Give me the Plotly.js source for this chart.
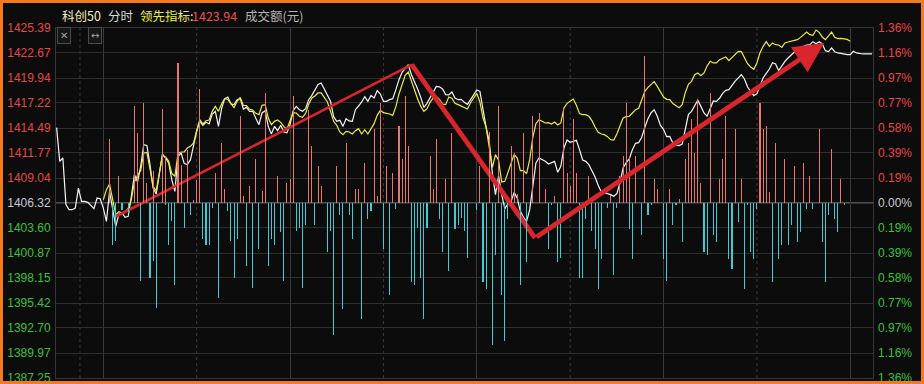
<!DOCTYPE html>
<html><head><meta charset="utf-8">
<script src="https://cdn.plot.ly/plotly-3.0.1.min.js"></script>
<style>
html,body{margin:0;padding:0;background:#0c0c0c;}
#wrap{position:relative;width:924px;height:384px;overflow:hidden;}
#chart{position:absolute;left:0;top:0;width:924px;height:384px;}
#frame{position:absolute;left:0;top:0;width:924px;height:384px;box-sizing:border-box;border:3px solid #f47a20;pointer-events:none;}
</style></head><body>
<div id="wrap"><div id="chart"></div><div id="frame"></div></div>
<script>
// ---- data ----
const prevClose = 1406.32;
const priceTickLabels = ['1425.39','1422.67','1419.94','1417.22','1414.49','1411.77','1409.04','1406.32','1403.60','1400.87','1398.15','1395.42','1392.70','1389.97','1387.25'];
const pctTickLabels = ['1.36%','1.16%','0.97%','0.77%','0.58%','0.39%','0.19%','0.00%','0.19%','0.39%','0.58%','0.77%','0.97%','1.16%','1.36%'];

// minutes from 09:30 (0) to 15:00 (240); pre-market from -15
const indexStartMinute = -15;
const indexPrice = [
1414.53,1410.86,1411.22,1406.14,1405.59,1405.59,1405.77,1407.95,1406.50,1406.50,1406.39,1406.07,1405.70,1406.86,1406.79,
1405.77,1404.32,1407.59,1405.48,1403.78,1405.12,1405.23,1404.76,1404.87,1407.05,1409.41,1408.61,1410.32,1412.68,1412.60,
1410.50,1407.95,1407.30,1409.77,1411.66,1411.22,1410.68,1408.86,1407.59,1411.40,1411.77,1410.61,1410.50,1411.04,1412.60,
1414.13,1415.22,1414.78,1415.11,1414.93,1416.02,1416.31,1414.67,1416.60,1417.69,1417.87,1417.11,1417.04,1417.58,1417.69,
1416.56,1416.74,1416.31,1416.31,1415.55,1414.86,1416.13,1416.38,1414.67,1413.84,1414.67,1414.20,1414.78,1414.06,1413.98,
1414.86,1416.38,1416.85,1416.49,1416.31,1416.60,1417.58,1418.05,1418.74,1419.25,1419.40,1418.74,1418.05,1417.40,1415.73,
1415.22,1415.33,1414.67,1415.51,1415.26,1415.22,1416.49,1416.89,1417.33,1417.91,1417.40,1418.05,1417.76,1418.56,1418.20,
1417.40,1417.40,1417.58,1417.69,1418.67,1419.76,1420.56,1421.03,1421.39,1420.30,1419.61,1418.74,1417.83,1416.74,1417.18,
1417.83,1418.52,1419.03,1418.98,1418.74,1418.13,1418.09,1418.42,1417.76,1417.58,1417.62,1417.29,1417.07,1417.58,1418.13,
1418.63,1418.49,1416.49,1414.57,1413.04,1409.59,1407.23,1409.30,1407.23,1405.70,1406.21,1406.50,1407.48,1406.83,1405.41,
1404.76,1404.32,1405.59,1408.14,1410.68,1411.22,1411.04,1410.86,1410.57,1410.68,1410.86,1409.66,1410.32,1412.31,1413.18,
1412.93,1413.04,1413.15,1412.13,1411.01,1410.86,1410.50,1409.84,1409.15,1408.25,1407.52,1407.45,1407.37,1407.23,1407.05,
1407.34,1408.50,1410.13,1410.72,1411.12,1412.13,1412.82,1412.90,1413.48,1414.57,1415.51,1416.16,1416.49,1415.77,1414.78,
1414.35,1413.55,1413.58,1412.86,1412.64,1412.57,1412.75,1414.49,1415.98,1416.31,1416.85,1417.51,1416.85,1416.13,1415.77,
1416.60,1417.44,1417.40,1417.73,1418.27,1418.60,1418.67,1419.14,1419.61,1419.94,1420.30,1419.83,1418.96,1418.49,1418.02,
1418.23,1419.07,1419.94,1420.45,1420.92,1421.61,1421.47,1420.74,1421.25,1421.76,1422.12,1422.41,1422.77,1423.07,1423.25,
1423.39,1423.54,1423.57,1423.90,1423.68,1423.90,1423.65,1422.92,1422.81,1423.21,1422.81,1422.67,1422.63,1422.52,1422.48,
1422.48,1422.85,1422.67,1422.59,1422.56,1422.56,1422.56,1422.56
];

const leadStartMinute = 0;
const leadPrice = [
1406.68,1407.77,1408.39,1406.68,1405.05,1405.37,1405.23,1405.41,1405.74,1406.68,1408.61,1409.33,1409.84,1411.77,1411.84,
1410.03,1408.10,1407.66,1409.59,1411.48,1411.37,1410.86,1409.55,1409.23,1411.73,1411.88,1411.88,1412.31,1412.50,1412.86,
1414.24,1415.40,1414.93,1415.29,1415.36,1416.31,1416.85,1416.31,1417.11,1417.69,1417.62,1417.11,1416.71,1417.40,1417.83,
1416.96,1416.93,1416.53,1416.45,1416.09,1415.95,1416.96,1417.04,1415.58,1414.86,1415.22,1415.36,1415.11,1414.64,1414.38,
1415.22,1416.16,1416.13,1415.77,1415.66,1416.09,1417.11,1417.76,1417.98,1418.31,1418.31,1417.76,1417.33,1416.31,1415.22,
1414.78,1414.06,1413.77,1414.13,1414.06,1413.84,1414.20,1414.42,1413.84,1414.31,1413.84,1414.42,1414.97,1415.87,1416.42,
1416.16,1416.13,1416.02,1415.87,1416.82,1418.20,1419.29,1420.23,1420.60,1419.58,1418.56,1417.65,1416.85,1416.31,1416.60,
1417.29,1417.76,1417.94,1417.62,1417.11,1417.04,1417.87,1417.73,1417.18,1417.04,1416.85,1416.67,1416.56,1417.25,1417.76,
1418.27,1417.33,1415.58,1414.57,1412.31,1410.21,1411.59,1410.97,1408.61,1408.68,1409.63,1410.68,1411.62,1411.22,1409.84,
1409.84,1409.52,1411.04,1413.48,1414.97,1415.40,1415.22,1415.04,1415.07,1414.93,1415.15,1414.82,1415.04,1416.67,1417.18,
1417.40,1417.65,1416.96,1416.06,1415.95,1415.95,1415.77,1415.29,1414.60,1414.02,1413.84,1413.77,1413.55,1413.22,1413.18,
1413.84,1414.71,1415.58,1415.73,1415.77,1416.13,1416.49,1416.64,1417.47,1418.49,1418.92,1419.25,1419.54,1419.03,1418.38,
1417.87,1417.62,1417.58,1417.15,1416.89,1416.71,1417.04,1418.38,1419.25,1419.58,1420.30,1420.49,1420.20,1420.49,1421.25,
1421.76,1421.58,1421.58,1421.94,1422.08,1422.23,1421.83,1422.19,1422.52,1422.85,1422.81,1422.19,1421.50,1421.14,1420.89,
1421.58,1422.70,1423.39,1423.90,1423.39,1423.76,1423.57,1423.54,1423.28,1423.76,1423.86,1423.94,1423.97,1424.12,1424.37,
1424.66,1424.95,1424.66,1424.59,1425.17,1424.92,1424.41,1424.12,1424.52,1424.95,1424.37,1424.23,1424.26,1424.23,1424.15,
1423.94
];

// turnover bars (relative units), up = red, down = cyan
const upMinute = [2,5,10,11,13,14,16,19,20,24,25,27,29,30,31,36,38,39,44,45,47,49,51,
52,56,59,60,61,66,67,69,70,75,78,81,82,84,87,88,89,91,93,95,96,97,98,105,106,107,110,112,
121,124,127,131,132,133,135,138,140,142,145,148,149,150,151,152,156,163,166,167,168,169,171,174,177,178,
182,185,187,188,189,190,191,192,195,198,199,200,203,205,211,212,213,214,216,219,222,225,227,230,234,237];
const upAmount = [64,27,97,70,100,20,32,94,47,140,38,53,3,23,114,30,60,14,87,7,17,44,12,
110,27,20,24,107,93,57,37,17,37,60,14,14,40,74,7,100,37,30,77,44,107,57,47,14,64,24,70,
37,71,97,57,50,9,70,87,90,14,7,94,30,17,84,30,27,8,27,47,100,47,47,147,24,14,
14,4,44,60,84,50,104,20,110,24,44,87,74,24,100,74,77,11,60,44,37,40,27,74,54,24];
const downMinute = [3,4,6,8,12,15,16,17,20,21,22,23,26,28,32,33,34,35,37,40,41,42,43,46,48,50,
53,54,55,57,58,62,63,64,65,68,72,73,74,76,77,79,80,83,85,86,90,92,94,99,100,101,102,103,104,108,109,111,113,114,115,116,
117,120,122,123,125,126,128,129,130,134,136,143,144,146,147,153,154,155,157,158,159,160,162,164,165,169,170,173,175,176,180,181,
183,184,186,193,194,196,197,201,202,204,206,207,208,209,210,215,217,218,220,221,223,224,226,228,231,232,233,235,236,238];
const downAmount = [-42,-38,-7,-10,-78,-75,-58,-105,-2,-42,-18,-82,-25,-12,-36,-42,-42,-5,-95,-8,-38,-75,-36,-63,-85,-46,
-63,-36,-42,-29,-78,-28,-25,-85,-22,-22,-49,-28,-132,-12,-106,-12,-36,-116,-16,-8,-46,-92,-6,-79,-82,-25,-75,-116,-25,-16,-49,-68,-26,-22,-15,-28,
-55,-7,-79,-86,-142,-52,-92,-138,-16,-82,-59,-46,-2,-59,-55,-75,-75,-16,-28,-46,-86,-56,-5,-72,-5,-26,-56,-32,-12,-2,-56,-78,
-22,-2,-39,-49,-52,-32,-39,-56,-66,-19,-86,-2,-49,-56,-6,-79,-56,-42,-42,-22,-39,-29,-6,-6,-39,-79,-12,-16,-29,-2];

// hand-drawn trend marks (minute, price)
const markMinute = [4.1, 99.1, 138.7, 231.6];
const markPrice = [1404.85, 1421.39, 1402.51, 1423.76];

const solidGridMinutes = [0, 60, 120, 180, 240];
const dottedGridMinutes = [-7.5, 30, 90, 150, 210];

// ---- drawing ----
const RED = '#e44848', GREEN = '#3cc040', NEUTRAL = '#c8c8d0';
const tickVals = priceTickLabels.map(Number);
function colorFor(v){ return v > prevClose + 1e-6 ? RED : (v < prevClose - 1e-6 ? GREEN : NEUTRAL); }
const leftText = priceTickLabels.map((t,i)=>'<span style="color:'+colorFor(tickVals[i])+'">'+t+'</span>');
const rightText = pctTickLabels.map((t,i)=>'<span style="color:'+colorFor(tickVals[i])+'">'+t+'</span>');

const indexX = indexPrice.map((_,i)=>indexStartMinute+i);
const leadX = leadPrice.map((_,i)=>leadStartMinute+i);

const traces = [
  {type:'bar', x:upMinute, y:upAmount, yaxis:'y3', width:0.34, marker:{color:'#e8776e', line:{width:0}}, hoverinfo:'skip'},
  {type:'bar', x:downMinute, y:downAmount, yaxis:'y3', width:0.34, marker:{color:'#40cad6', line:{width:0}}, hoverinfo:'skip'},
  {type:'scatter', mode:'lines', x:indexX, y:indexPrice, line:{color:'#f4f4f4', width:1.2}, hoverinfo:'skip'},
  {type:'scatter', mode:'lines', x:leadX, y:leadPrice, line:{color:'#ecec3c', width:1.2}, hoverinfo:'skip'},
  {type:'scatter', mode:'lines', x:markMinute.slice(0,2), y:markPrice.slice(0,2), line:{color:'#d8262c', width:2.6}, hoverinfo:'skip'},
  {type:'scatter', mode:'lines', x:markMinute.slice(1,3), y:markPrice.slice(1,3), line:{color:'#d8262c', width:4.8}, hoverinfo:'skip'},
  {type:'scatter', mode:'lines', x:[], y:[], yaxis:'y2', hoverinfo:'skip'}
];

const plotL = 56, plotR = 873, plotT = 28, plotB = 378;
function px2paperX(px){ return (px-plotL)/(plotR-plotL); }
function px2paperY(py){ return (plotB-py)/(plotB-plotT); }

const hdrFont = 'Noto Sans CJK SC, Noto Sans, sans-serif';
const header = [
  {text:'科创50', x:60, color:'#f2ecc4'},
  {text:'分时', x:106, color:'#d4d4d4'},
  {text:'领先指标:', x:138, color:'#ecec4a'},
  {text:'1423.94', x:190, color:'#e85050'},
  {text:'成交额(元)', x:243, color:'#b4b4b4'}
];
const annotations = header.map(h=>({
  xref:'paper', yref:'paper', x:px2paperX(h.x), y:px2paperY(15), xanchor:'left', yanchor:'middle',
  text:h.text, showarrow:false, font:{family:hdrFont, size:12.5, color:h.color}
}));
annotations.push({xref:'paper', yref:'paper', x:px2paperX(63.5), y:px2paperY(35.5), xanchor:'center', yanchor:'middle',
  text:'✕', showarrow:false, font:{family:'DejaVu Sans', size:10, color:'#a0a0a0'}, bordercolor:'#4a4a4a', borderwidth:1, borderpad:2, bgcolor:'#161616'});
annotations.push({xref:'paper', yref:'paper', x:px2paperX(95), y:px2paperY(35.5), xanchor:'center', yanchor:'middle',
  text:'↔', showarrow:false, font:{family:'DejaVu Sans', size:10, color:'#a0a0a0'}, bordercolor:'#4a4a4a', borderwidth:1, borderpad:2, bgcolor:'#161616'});
annotations.push({xref:'x', yref:'y', axref:'x', ayref:'y', x:markMinute[3], y:markPrice[3], ax:markMinute[2], ay:markPrice[2],
  text:'', showarrow:true, arrowhead:2, arrowsize:1.25, arrowwidth:4.8, arrowcolor:'#d8262c', standoff:0});

const shapes = dottedGridMinutes.map(m=>({type:'line', xref:'x', yref:'paper', x0:m, x1:m, y0:0, y1:1, layer:'between',
  line:{color:'#3c3c3c', width:1, dash:'dot'}}));
shapes.push({type:'line', xref:'paper', yref:'y', x0:0, x1:1, y0:prevClose, y1:prevClose, layer:'between', line:{color:'#505050', width:2}});

const layout = {
  width:924, height:384, margin:{l:plotL, r:924-plotR, t:plotT, b:384-plotB, pad:0},
  paper_bgcolor:'#0c0c0c', plot_bgcolor:'#0c0c0c', showlegend:false, barmode:'overlay', bargap:0,
  font:{family:'Liberation Sans, Arial, sans-serif', size:12, color:'#cccccc'},
  xaxis:{range:[-15.2, 247.3], tickvals:solidGridMinutes, showticklabels:false, ticks:'', showgrid:true,
    gridcolor:'#3a3a3a', gridwidth:1, zeroline:false, showline:true, mirror:true, linecolor:'#363636', linewidth:1, fixedrange:true},
  yaxis:{range:[tickVals[tickVals.length-1], tickVals[0]], tickvals:tickVals, ticktext:leftText, ticks:'', showgrid:true,
    gridcolor:'#2e2e2e', gridwidth:1, zeroline:false, showline:true, mirror:true, linecolor:'#363636', linewidth:1,
    tickfont:{family:'Liberation Sans, Arial, sans-serif', size:12}, ticklabelstandoff:2, ticklabeloverflow:'allow', fixedrange:true},
  yaxis2:{overlaying:'y', side:'right', range:[tickVals[tickVals.length-1], tickVals[0]], tickvals:tickVals, ticktext:rightText,
    ticks:'', showgrid:false, zeroline:false, showline:false, tickfont:{family:'Liberation Sans, Arial, sans-serif', size:12},
    ticklabelstandoff:4, ticklabeloverflow:'allow', fixedrange:true},
  yaxis3:{overlaying:'y', range:[-175,175], visible:false, fixedrange:true},
  annotations:annotations, shapes:shapes
};
Plotly.newPlot('chart', traces, layout, {staticPlot:true, displayModeBar:false});
</script>
</body></html>
